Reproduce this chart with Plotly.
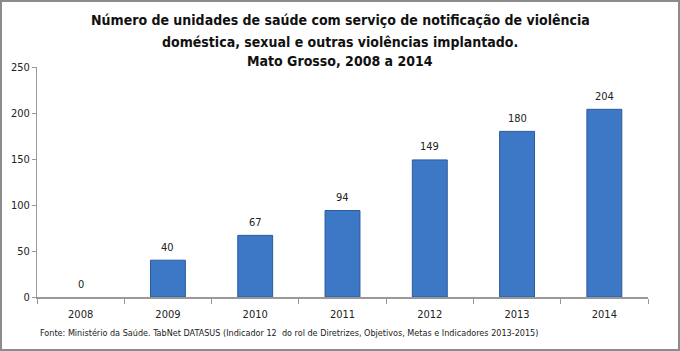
import plotly.graph_objects as go

years = ["2008", "2009", "2010", "2011", "2012", "2013", "2014"]
values = [0, 40, 67, 94, 149, 180, 204]
y_ticks = [0, 50, 100, 150, 200, 250]
title_lines = [
    "Número de unidades de saúde com serviço de notificação de violência",
    "doméstica, sexual e outras violências implantado.",
    "Mato Grosso, 2008 a 2014",
]
source = "Fonte: Ministério da Saúde. TabNet DATASUS (Indicador 12  do rol de Diretrizes, Objetivos, Metas e Indicadores 2013-2015)"

W, H = 680, 351
L, R, T, B = 37, 32, 67, 54
pw, ph = W - L - R, H - T - B
FONT = "DejaVu Sans Condensed, Lato, sans-serif"

def px_x(p):
    return (p - L) / pw

def px_y(p):
    return (H - B - p) / ph

fig = go.Figure()
fig.add_trace(go.Bar(
    x=years, y=values,
    width=0.4,
    marker=dict(color="#3d78c6",
                line=dict(color=["rgba(0,0,0,0)" if v == 0 else "#2b5a9c" for v in values], width=1)),
    cliponaxis=False,
))

for i, v in enumerate(values):
    fig.add_annotation(
        x=i, y=v, xref="x", yref="y", text=str(v),
        showarrow=False, yanchor="middle", yshift=13,
        font=dict(size=11, color="#222", family=FONT),
    )

fig.update_layout(
    width=W, height=H,
    margin=dict(l=L, r=R, t=T, b=B),
    paper_bgcolor="white", plot_bgcolor="white",
    showlegend=False,
    font=dict(family=FONT, size=11, color="#222"),
    xaxis=dict(
        type="category", categoryorder="array", categoryarray=years,
        range=[-0.5, len(years) - 0.5],
        showline=True, linecolor="#999", linewidth=2,
        ticks="outside", tickson="boundaries", ticklen=5, tickcolor="#999",
        showgrid=False, tickfont=dict(size=11), ticklabelstandoff=6,
    ),
    yaxis=dict(
        range=[0, 250], tickvals=y_ticks,
        showline=True, linecolor="#999", linewidth=1,
        ticks="outside", ticklen=4, tickcolor="#999",
        showgrid=False, zeroline=False, tickfont=dict(size=11),
    ),
    shapes=[dict(
        type="rect", xref="paper", yref="paper",
        x0=px_x(1), x1=px_x(679), y0=px_y(350), y1=px_y(1),
        line=dict(color="#8c8c8c", width=2), fillcolor="rgba(0,0,0,0)",
        layer="above",
    )],
)

ys = [20, 42, 61]
for line, yy in zip(title_lines, ys):
    fig.add_annotation(
        text="<b>" + line + "</b>", xref="paper", yref="paper",
        x=px_x(340), y=px_y(yy), xanchor="center", yanchor="middle",
        showarrow=False,
        font=dict(size=14, color="#111", family=FONT),
    )

fig.add_annotation(
    text=source, xref="paper", yref="paper",
    x=px_x(38), y=px_y(333), xanchor="left", yanchor="middle",
    showarrow=False,
    font=dict(size=9, color="#222", family=FONT),
)

fig.write_html("out.html")
